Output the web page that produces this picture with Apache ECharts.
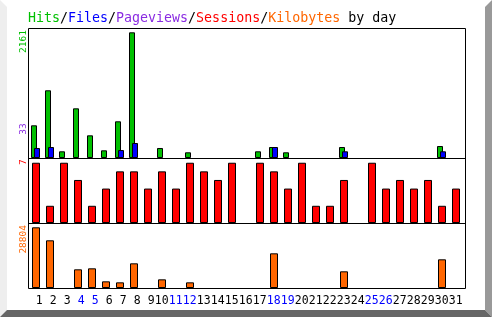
<!DOCTYPE html>
<html><head><meta charset="utf-8">
<script src="https://cdn.jsdelivr.net/npm/echarts/dist/echarts.min.js"></script>
<style>html,body{margin:0;padding:0;background:#fff}#c{width:492px;height:317px}</style>
</head><body><div id="c"></div>
<script>
// ---- data ----
const days = ['1','2','3','4','5','6','7','8','9','10','11','12','13','14','15','16','17','18','19','20','21','22','23','24','25','26','27','28','29','30','31'];
const weekendDays = ['4','5','11','12','18','19','25','26'];
const hits = [562,1164,115,854,390,132,631,2161,0,172,0,98,0,0,0,0,115,189,98,0,0,0,189,0,0,0,0,0,0,206,0];
const files = [172,189,0,0,0,0,137,258,0,0,0,0,0,0,0,0,0,189,0,0,0,0,115,0,0,0,0,0,0,115,0];
const sessions = [7,2,7,5,2,4,6,6,4,6,4,7,6,5,7,0,7,6,4,7,2,2,5,0,7,4,5,4,5,2,4];
const kbytes = [28804,22631,0,8862,9337,3165,2690,11711,0,4115,0,2690,0,0,0,0,0,16459,0,0,0,0,7913,0,0,0,0,0,0,13610,0];
const scaleLabels = ['2161','33','7','28804'];

const FONT = 'DejaVu Sans Mono';
const C = {hits:'#00c000', files:'#0000ff', pages:'#8a2be2', sessions:'#ff0000', kbytes:'#ff6600', black:'#000000'};
const nz = a => a.map(v => v > 0 ? v : '-');

const chart = echarts.init(document.getElementById('c'), null, {renderer:'canvas'});
const titleRich = {};
[['h',C.hits],['f',C.files],['p',C.pages],['v',C.sessions],['k',C.kbytes],['s',C.black]].forEach(([k,c]) => {
  titleRich[k] = {color:c, fontFamily:FONT, fontSize:13.3};
});
const baseX = (i) => ({
  type:'category', gridIndex:i, data:days, show:i===3,
  axisLine:{show:false}, axisTick:{show:false}, splitLine:{show:false},
  axisLabel:{show:i===3, interval:0, align:'right', margin:7, fontFamily:FONT, fontSize:11.5,
    color:(v) => weekendDays.indexOf(v) >= 0 ? C.files : C.black}
});
const baseY = (i, max) => ({type:'value', gridIndex:i, min:0, max:max, show:false, splitLine:{show:false}});
const bar = (name, data, xi, color, w, extra) => Object.assign({
  name:name, type:'bar', xAxisIndex:xi, yAxisIndex:xi, data:nz(data), barWidth:w,
  itemStyle:{color:color, borderColor:'#000', borderWidth:1}, silent:true
}, extra || {});

const option = {
  animation:false,
  backgroundColor:'#ffffff',
  title:{left:28, top:12, padding:0,
    text:'{h|Hits}{s|/}{f|Files}{s|/}{p|Pageviews}{s|/}{v|Sessions}{s|/}{k|Kilobytes}{s| by day}',
    textStyle:{fontFamily:FONT, fontSize:13.3, fontWeight:'normal', rich:titleRich}},
  grid:[
    {left:28.5, top:28, width:434, height:130},
    {left:29, top:158, width:434, height:65},
    {left:29, top:223, width:434, height:65},
    {left:35.6, top:223, width:434, height:65}
  ],
  xAxis:[baseX(0), baseX(1), baseX(2), baseX(3)],
  yAxis:[baseY(0, 2235), baseY(1, 7.55), baseY(2, 30845), baseY(3, 1)],
  series:[
    bar('Hits', hits, 0, C.hits, 6, {barGap:'-50%'}),
    bar('Files', files, 0, C.files, 6, {barGap:'-50%'}),
    bar('Sessions', sessions, 1, C.sessions, 8),
    bar('Kilobytes', kbytes, 2, C.kbytes, 8)
  ],
  graphic:[
    {type:'polygon', z:-10, shape:{points:[[0,0],[7,7],[7,310],[0,317]]}, style:{fill:'#eeeeee'}},
    {type:'polygon', z:-10, shape:{points:[[492,0],[492,317],[485,310],[485,7]]}, style:{fill:'#999999'}},
    {type:'polygon', z:-10, shape:{points:[[0,317],[7,310],[485,310],[492,317]]}, style:{fill:'#666666'}},
    {type:'rect', z:50, shape:{x:28.5, y:28.5, width:437, height:260}, style:{fill:null, stroke:'#000', lineWidth:1}},
    {type:'line', z:50, shape:{x1:28.5, y1:158.5, x2:465.5, y2:158.5}, style:{stroke:'#000', lineWidth:1}},
    {type:'line', z:50, shape:{x1:28.5, y1:223.5, x2:465.5, y2:223.5}, style:{stroke:'#000', lineWidth:1}},
    {type:'text', x:24, y:30, rotation:Math.PI/2, style:{text:scaleLabels[0], fill:C.hits, font:'9.5px "DejaVu Sans Mono"', align:'right', verticalAlign:'middle'}},
    {type:'text', x:24, y:123.3, rotation:Math.PI/2, style:{text:scaleLabels[1], fill:C.pages, font:'9.5px "DejaVu Sans Mono"', align:'right', verticalAlign:'middle'}},
    {type:'text', x:24, y:159.3, rotation:Math.PI/2, style:{text:scaleLabels[2], fill:C.sessions, font:'9.5px "DejaVu Sans Mono"', align:'right', verticalAlign:'middle'}},
    {type:'text', x:24, y:225, rotation:Math.PI/2, style:{text:scaleLabels[3], fill:C.kbytes, font:'9.5px "DejaVu Sans Mono"', align:'right', verticalAlign:'middle'}}
  ]
};
chart.setOption(option);
</script></body></html>
